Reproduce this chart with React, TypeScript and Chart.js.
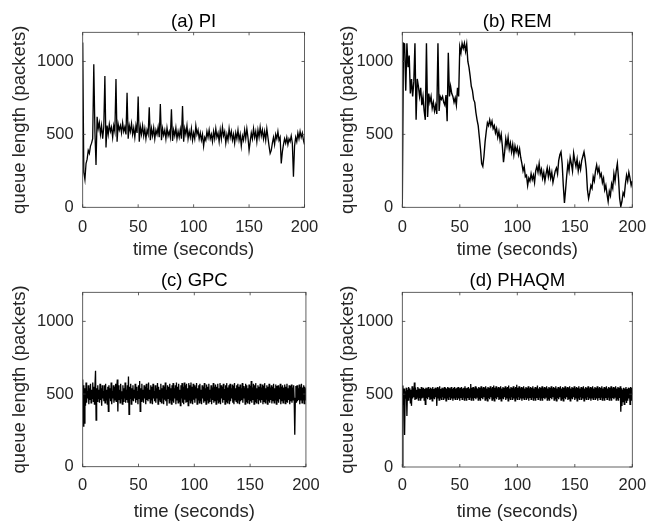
import React, { useEffect, useRef } from 'react';
import { Chart, registerables } from 'chart.js';

Chart.register(...registerables);

// ---- axes ----
const xTickValues = [0, 50, 100, 150, 200];
const yTickValues = [0, 500, 1000];
const X_MIN = 0;
const X_MAX = 200;
const Y_MIN = 0;
const Y_MAX = 1200;
const xAxisTitle = 'time (seconds)';
const yAxisTitle = 'queue length (packets)';

// ---- (a) PI : one sample per second ----
const piStep = 1;
const piQueue = [
  1130, 240, 190, 300, 330, 390, 370, 420, 440, 470,
  980, 520, 290, 620, 540, 580, 500, 560, 470, 550,
  900, 410, 560, 500, 570, 520, 550, 480, 560, 520,
  880, 450, 570, 530, 560, 510, 580, 520, 550, 500,
  786, 470, 560, 520, 575, 500, 545, 480, 560, 510,
  760, 450, 550, 500, 560, 490, 540, 470, 530, 500,
  686, 460, 540, 490, 545, 470, 530, 500, 550, 480,
  708, 460, 540, 495, 530, 470, 545, 490, 520, 480,
  672, 455, 530, 490, 545, 470, 520, 480, 535, 470,
  694, 450, 540, 500, 560, 470, 520, 480, 540, 460,
  510, 470, 560, 500, 530, 470, 510, 460, 500, 420,
  480, 460, 520, 480, 530, 470, 500, 450, 520, 470,
  540, 480, 510, 450, 530, 470, 550, 490, 520, 440,
  500, 460, 540, 480, 520, 460, 500, 440, 510, 470,
  530, 460, 500, 420, 490, 460, 530, 470, 540, 480,
  390, 450, 510, 470, 540, 480, 520, 450, 530, 480,
  550, 490, 530, 470, 520, 460, 540, 480, 420, 370,
  390, 440, 480, 430, 500, 470, 520, 460, 480, 300,
  380, 430, 470, 440, 480, 430, 470, 450, 490, 440,
  210, 420, 480, 450, 510, 470, 520, 480, 510, 460,
  430,
];

// ---- (b) REM : one sample per second ----
const remStep = 1;
const remQueue = [
  20, 1125, 1120, 800, 1125, 960, 1040, 780, 880, 760,
  860, 1125, 600, 880, 830, 760, 820, 700, 760, 660,
  600, 1125, 620, 780, 720, 760, 680, 720, 660, 700,
  640, 1125, 660, 760, 740, 760, 720, 700, 770, 590,
  1060, 760, 830, 780, 760, 720, 750, 700, 820, 760,
  1100, 1060, 1125, 1090, 1125, 1070, 1120, 1000, 960, 900,
  830, 800, 740, 720, 650, 600, 560, 480, 400, 300,
  280, 350, 450, 520, 580, 560, 600, 560, 590, 540,
  560, 510, 540, 480, 520, 460, 500, 420, 310, 380,
  470, 420, 480, 400, 440, 380, 430, 360, 420, 380,
  410, 360, 400, 340, 300, 250, 280, 210, 220, 150,
  200, 180, 230, 190, 220, 170, 250, 280, 240, 300,
  230, 260, 200, 240, 180, 230, 270, 210, 260, 200,
  240, 170, 210, 250, 270, 230, 320, 360, 380, 300,
  150, 30, 120, 220, 300, 250, 340, 300, 250, 370,
  320, 280, 330, 250, 300, 260, 320, 350, 380, 330,
  260, 120, 60, 100, 150, 130, 210, 180, 250, 290,
  240, 270, 210, 230, 170, 200, 120, 150, 90, 40,
  110, 80, 160, 130, 230, 180, 250, 300, 200, 60,
  5, 40, 100, 80, 160, 220, 180, 240, 200, 150,
  180,
];

// ---- (c) GPC : two samples per second ----
const gpcStep = 0.5;
const gpcQueue = [
  600, 280, 560, 300, 540, 420, 580, 440, 520, 470, 560, 430, 540, 460, 570, 440, 530, 470, 580, 450,
  550, 430, 560, 660, 320, 540, 450, 560, 470, 530, 440, 570, 460, 540, 420, 560, 470, 520, 450, 560,
  440, 570, 460, 530, 430, 550, 380, 560, 470, 540, 450, 580, 430, 520, 470, 560, 440, 550, 460, 570,
  450, 540, 600, 380, 560, 460, 530, 440, 570, 470, 520, 430, 560, 450, 540, 470, 580, 440, 530, 460,
  560, 440, 620, 360, 550, 470, 570, 430, 540, 460, 560, 450, 530, 470, 570, 440, 550, 460, 520, 430,
  560, 470, 590, 380, 540, 450, 570, 460, 530, 440, 560, 470, 550, 430, 570, 460, 540, 450, 580, 470,
  530, 440, 560, 460, 550, 430, 570, 470, 520, 450, 560, 440, 540, 470, 575, 430, 550, 460, 530, 450,
  570, 440, 540, 470, 560, 430, 550, 460, 580, 450, 530, 420, 560, 470, 550, 440, 570, 460, 540, 430,
  560, 450, 575, 440, 540, 470, 560, 430, 580, 460, 550, 440, 570, 450, 530, 420, 560, 470, 575, 440,
  550, 430, 580, 460, 560, 440, 570, 450, 540, 420, 575, 460, 560, 440, 580, 450, 550, 430, 570, 460,
  560, 440, 550, 470, 575, 430, 540, 460, 560, 440, 570, 450, 530, 430, 560, 470, 550, 440, 575, 450,
  540, 430, 565, 460, 550, 440, 570, 450, 530, 470, 560, 430, 545, 460, 575, 440, 550, 450, 565, 430,
  550, 460, 570, 440, 540, 450, 575, 430, 560, 470, 550, 440, 570, 460, 535, 430, 560, 450, 575, 440,
  545, 460, 560, 430, 570, 450, 540, 470, 565, 440, 555, 430, 575, 460, 540, 450, 560, 440, 570, 460,
  550, 430, 565, 450, 540, 460, 575, 440, 555, 470, 545, 430, 570, 450, 560, 440, 540, 460, 565, 430,
  555, 450, 590, 440, 545, 460, 570, 430, 560, 450, 575, 440, 540, 470, 560, 430, 550, 455, 570, 440,
  545, 460, 565, 430, 555, 450, 575, 440, 540, 465, 560, 430, 550, 450, 570, 440, 545, 460, 560, 435,
  550, 455, 570, 440, 540, 460, 565, 430, 555, 450, 560, 440, 545, 465, 570, 430, 550, 450, 560, 440,
  545, 460, 565, 435, 550, 450, 570, 440, 540, 460, 560, 430, 555, 450, 565, 440, 545, 460, 560, 450,
  220, 470, 555, 440, 560, 450, 540, 460, 565, 430, 550, 455, 570, 440, 545, 460, 560, 435, 550, 460,
  540,
];

// ---- (d) PHAQM : two samples per second ----
const phaqmStep = 0.5;
const phaqmQueue = [
  10, 560, 430, 540, 220, 520, 470, 545, 350, 530, 460, 550, 480, 540, 440, 530, 420, 555, 470, 540,
  480, 580, 460, 545, 470, 530, 480, 550, 460, 540, 475, 535, 455, 550, 470, 540, 480, 545, 460, 535,
  430, 545, 475, 540, 465, 550, 480, 535, 460, 545, 470, 540, 455, 550, 475, 535, 465, 545, 480, 540,
  420, 550, 470, 540, 460, 555, 475, 535, 465, 545, 480, 540, 460, 550, 470, 545, 455, 540, 475, 550,
  465, 545, 480, 540, 460, 550, 470, 535, 455, 545, 475, 550, 465, 540, 480, 545, 460, 550, 470, 540,
  455, 545, 475, 550, 465, 540, 480, 545, 460, 555, 470, 540, 455, 545, 475, 550, 465, 540, 480, 570,
  460, 545, 470, 550, 455, 540, 475, 555, 465, 545, 480, 540, 460, 550, 470, 545, 455, 555, 475, 540,
  465, 550, 480, 545, 460, 555, 470, 540, 455, 550, 475, 545, 465, 555, 480, 540, 460, 550, 470, 560,
  455, 545, 475, 555, 465, 540, 480, 550, 460, 545, 470, 555, 455, 540, 475, 550, 465, 545, 480, 555,
  460, 545, 470, 550, 455, 560, 475, 540, 465, 550, 480, 545, 460, 555, 470, 540, 455, 550, 475, 565,
  465, 545, 480, 555, 460, 540, 470, 550, 455, 545, 475, 555, 465, 540, 480, 550, 460, 545, 470, 555,
  455, 540, 475, 550, 465, 545, 480, 555, 460, 540, 470, 550, 455, 545, 475, 560, 465, 540, 480, 550,
  460, 545, 470, 555, 455, 540, 475, 550, 465, 545, 480, 555, 460, 540, 470, 550, 455, 545, 475, 555,
  465, 540, 480, 550, 460, 545, 470, 555, 455, 540, 475, 550, 465, 545, 480, 555, 460, 540, 470, 550,
  455, 545, 475, 555, 465, 540, 480, 550, 460, 545, 470, 555, 455, 540, 475, 550, 465, 545, 480, 555,
  460, 540, 470, 550, 455, 545, 475, 555, 465, 540, 480, 550, 460, 545, 470, 555, 455, 540, 475, 550,
  465, 545, 480, 555, 460, 540, 470, 550, 455, 545, 475, 555, 465, 540, 480, 550, 460, 545, 470, 555,
  455, 540, 475, 550, 465, 545, 480, 555, 460, 540, 470, 550, 455, 545, 475, 555, 465, 540, 480, 550,
  460, 545, 470, 555, 455, 540, 475, 550, 465, 545, 480, 555, 460, 540, 470, 550, 455, 545, 475, 555,
  380, 540, 420, 530, 450, 545, 430, 540, 460, 550, 440, 535, 455, 545, 470, 540, 430, 550, 460, 545,
  500,
];

const FONT = "'Liberation Sans', Arial, Helvetica, sans-serif";
const LABEL_SIZE = 18.5;
const TICK_SIZE = 16.5;

type Geo = {
  x: number; y: number; w: number; h: number;
  L: number; T: number; R: number; B: number;
  titleMid: number; yTitleMid: number; xTitleMid: number;
  yTickPad: number; xTickPad: number;
};

const boxPlugin = {
  id: 'matlabBox',
  afterDatasetsDraw(chart: any) {
    const { ctx, chartArea: a, scales } = chart;
    ctx.save();
    ctx.strokeStyle = '#3a3a3a';
    ctx.lineWidth = 0.8;
    ctx.strokeRect(a.left, a.top, a.right - a.left, a.bottom - a.top);
    const tl = 3;
    ctx.beginPath();
    for (const v of xTickValues) {
      const px = scales.x.getPixelForValue(v);
      ctx.moveTo(px, a.bottom); ctx.lineTo(px, a.bottom - tl);
      ctx.moveTo(px, a.top); ctx.lineTo(px, a.top + tl);
    }
    for (const v of yTickValues) {
      const py = scales.y.getPixelForValue(v);
      ctx.moveTo(a.left, py); ctx.lineTo(a.left + tl, py);
      ctx.moveTo(a.right, py); ctx.lineTo(a.right - tl, py);
    }
    ctx.stroke();
    ctx.restore();
  },
};

function Panel({ title, values, step, g, lineWidth }: { title: string; values: number[]; step: number; g: Geo; lineWidth: number }) {
  const ref = useRef<HTMLCanvasElement | null>(null);
  useEffect(() => {
    if (!ref.current) return;
    const points = values.map((v, i) => ({ x: i * step, y: v }));
    const lh = LABEL_SIZE;
    const labelFont = { family: FONT, size: LABEL_SIZE, weight: 'normal' as const, lineHeight: 1 };
    const tickFont = { family: FONT, size: TICK_SIZE, weight: 'normal' as const, lineHeight: 1 };
    const chart = new Chart(ref.current, {
      type: 'line',
      data: {
        datasets: [{
          data: points,
          borderColor: '#000000',
          borderWidth: lineWidth,
          pointRadius: 0,
          fill: false,
          tension: 0,
        }],
      },
      options: {
        animation: false,
        responsive: false,
        devicePixelRatio: 1,
        events: [],
        layout: { padding: { left: 0, top: 0, right: g.w - g.R, bottom: 0 } },
        plugins: {
          legend: { display: false },
          tooltip: { enabled: false },
          title: {
            display: true,
            text: title,
            fullSize: false,
            color: '#000000',
            font: labelFont,
            padding: { top: g.titleMid - lh / 2, bottom: g.T - g.titleMid - lh / 2 },
          },
        },
        scales: {
          x: {
            type: 'linear',
            min: X_MIN,
            max: X_MAX,
            grid: { display: false, drawTicks: false },
            border: { display: false },
            ticks: {
              font: tickFont,
              color: '#262626',
              padding: g.xTickPad,
              maxRotation: 0,
              autoSkip: false,
              callback: (v: any) => String(v),
            },
            afterBuildTicks: (s: any) => { s.ticks = xTickValues.map((v) => ({ value: v })); },
            title: {
              display: true,
              text: xAxisTitle,
              color: '#262626',
              font: labelFont,
              padding: { top: 0, bottom: g.h - g.xTitleMid - lh / 2 },
            },
            afterFit: (s: any) => { s.height = g.h - g.B; },
          },
          y: {
            type: 'linear',
            min: Y_MIN,
            max: Y_MAX,
            grid: { display: false, drawTicks: false },
            border: { display: false },
            ticks: {
              font: tickFont,
              color: '#262626',
              padding: g.yTickPad,
              autoSkip: false,
              callback: (v: any) => String(v),
            },
            afterBuildTicks: (s: any) => { s.ticks = yTickValues.map((v) => ({ value: v })); },
            title: {
              display: true,
              text: yAxisTitle,
              color: '#262626',
              font: labelFont,
              padding: { top: g.yTitleMid - lh / 2, bottom: 0 },
            },
            afterFit: (s: any) => { s.width = g.L; },
          },
        },
      },
      plugins: [boxPlugin],
    });
    return () => chart.destroy();
  }, [title, values, step, g, lineWidth]);

  return (
    <canvas
      ref={ref}
      width={g.w}
      height={g.h}
      style={{ position: 'absolute', left: g.x, top: g.y, width: g.w, height: g.h }}
    />
  );
}

const geoA: Geo = { x: 0, y: 0, w: 330, h: 260, L: 82.7, T: 32.3, R: 312.7, B: 207.3, titleMid: 21.5, yTitleMid: 19.7, xTitleMid: 250.4, yTickPad: 9, xTickPad: 11.7 };
const geoB: Geo = { x: 320, y: 0, w: 339, h: 260, L: 82.3, T: 32.3, R: 312.3, B: 207.3, titleMid: 21.5, yTitleMid: 27.7, xTitleMid: 250.4, yTickPad: 9, xTickPad: 11.7 };
const geoC: Geo = { x: 0, y: 260, w: 330, h: 261, L: 82.7, T: 32.3, R: 312.7, B: 206.7, titleMid: 21.4, yTitleMid: 19.7, xTitleMid: 251.7, yTickPad: 9, xTickPad: 10.3 };
const geoD: Geo = { x: 320, y: 260, w: 339, h: 261, L: 82.3, T: 32.3, R: 312.3, B: 207, titleMid: 21.4, yTitleMid: 27.7, xTitleMid: 251.7, yTickPad: 9, xTickPad: 10.3 };

export default function App() {
  return (
    <div style={{ position: 'absolute', left: 0, top: 0, width: 659, height: 521, background: '#ffffff', overflow: 'hidden' }}>
      <Panel title="(a) PI" values={piQueue} step={piStep} g={geoA} lineWidth={1.3} />
      <Panel title="(b) REM" values={remQueue} step={remStep} g={geoB} lineWidth={1.4} />
      <Panel title="(c) GPC" values={gpcQueue} step={gpcStep} g={geoC} lineWidth={1.3} />
      <Panel title="(d) PHAQM" values={phaqmQueue} step={phaqmStep} g={geoD} lineWidth={1.3} />
    </div>
  );
}
